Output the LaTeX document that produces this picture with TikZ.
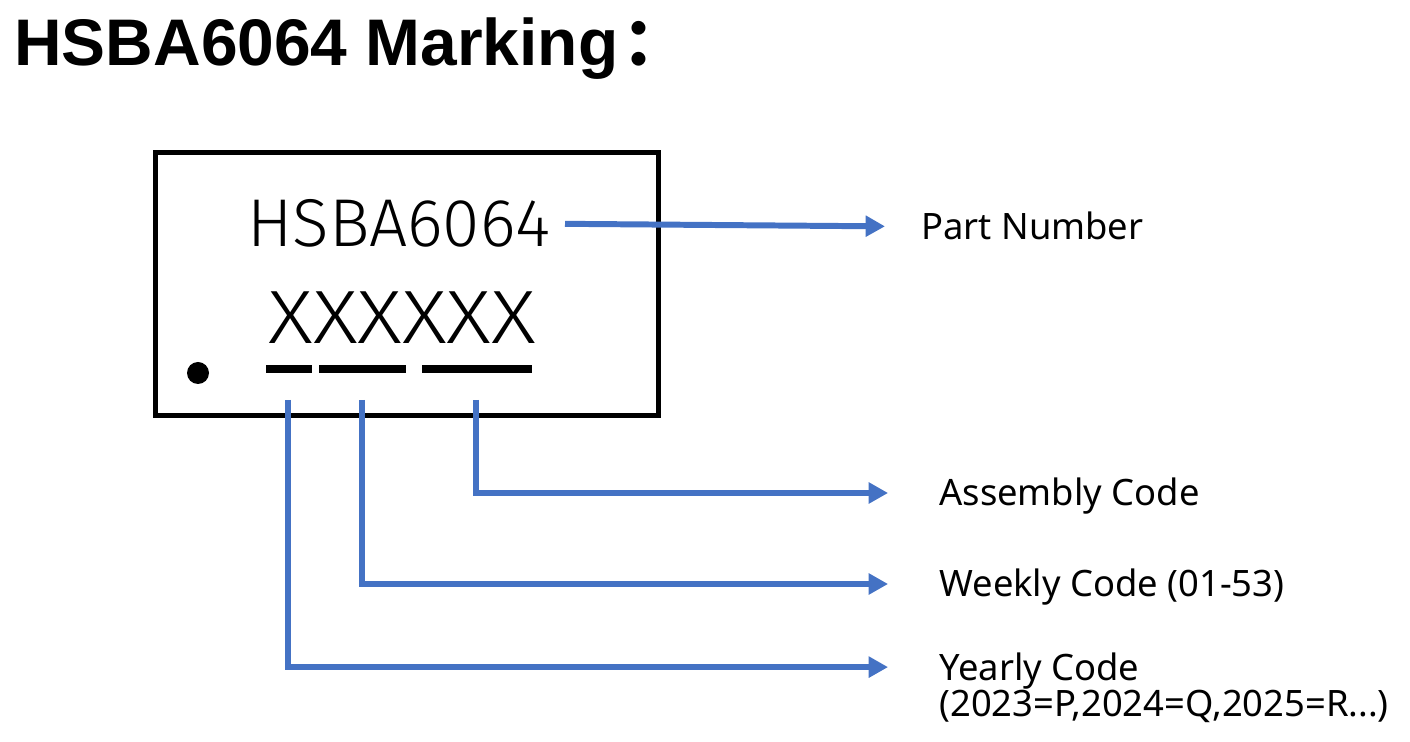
\documentclass[tikz,border=0pt]{standalone}
\usepackage{fontspec}
\usepackage{tikz}
\usetikzlibrary{positioning,arrows.meta}
\setmainfont{Noto Sans}
\newfontfamily\titlefont{Liberation Sans}
\newfontfamily\cjk{Noto Sans CJK SC}
\newfontfamily\chipfont{Fira Sans Light}
\definecolor{markblue}{RGB}{68,114,196}
\tikzset{
  link/.style={draw=markblue, line width=3.4pt, -{Triangle[length=11pt,width=11.5pt]}},
  lbl/.style={inner sep=0pt, font=\fontsize{20.7}{21}\selectfont, align=left},
  bar/.style={line width=4pt}
}
\begin{document}
\begin{tikzpicture}[x=0.02cm, y={(0,-0.02cm)}]
            \useasboundingbox (0,0) rectangle (1410,742);
            % title
            \node[inner sep=0pt, anchor=base west] (title) at (14,66)
              {\titlefont\bfseries\fontsize{37.5}{40}\selectfont HSBA6064 Marking{\cjk\hspace{2pt}：}};
            % chip outline
            \draw[line width=2.85pt] (155.5,152.5) rectangle (658.5,415.5);
            \fill (198,373) circle (11);
            \node[inner sep=0pt, anchor=base west] (pnum) at (247,247)
              {\chipfont\fontsize{38.5}{40}\selectfont HSBA6064};
            \node[inner sep=0pt, anchor=base west] (code) at (268,344)
              {\chipfont\fontsize{43}{45}\selectfont\scalebox{1.15}[1]{XXXXXX}};
            \draw[bar] (266,369) -- (312,369);
            \draw[bar] (319,369) -- (406,369);
            \draw[bar] (422,369) -- (532,369);
            % labels
            \node[lbl, anchor=base west] (part) at (921,240) {Part Number};
            \node[lbl, anchor=base west] (asm) at (939,506) {Assembly Code};
            \node[lbl, anchor=base west] (week) at (939,597) {Weekly Code (01-53)};
            \node[lbl, anchor=base west] (year) at (939,717) {Yearly Code\\(2023=P,2024=Q,2025=R...)};
            \coordinate (yr) at (288,400);
            \coordinate (wk) at (362,400);
            \coordinate (as) at (476,400);
            \draw[link] ([xshift=8pt]pnum.east) -- ([xshift=-20.5pt]part.west);
            \draw[link] (as) |- ([xshift=-29pt,yshift=7.4pt]asm.base west);
            \draw[link] (wk) |- ([xshift=-29pt,yshift=7.4pt]week.base west);
            \draw[link] (yr) |- ([xshift=-29pt,yshift=28.4pt]year.base west);
        \end{tikzpicture}
\end{document}
